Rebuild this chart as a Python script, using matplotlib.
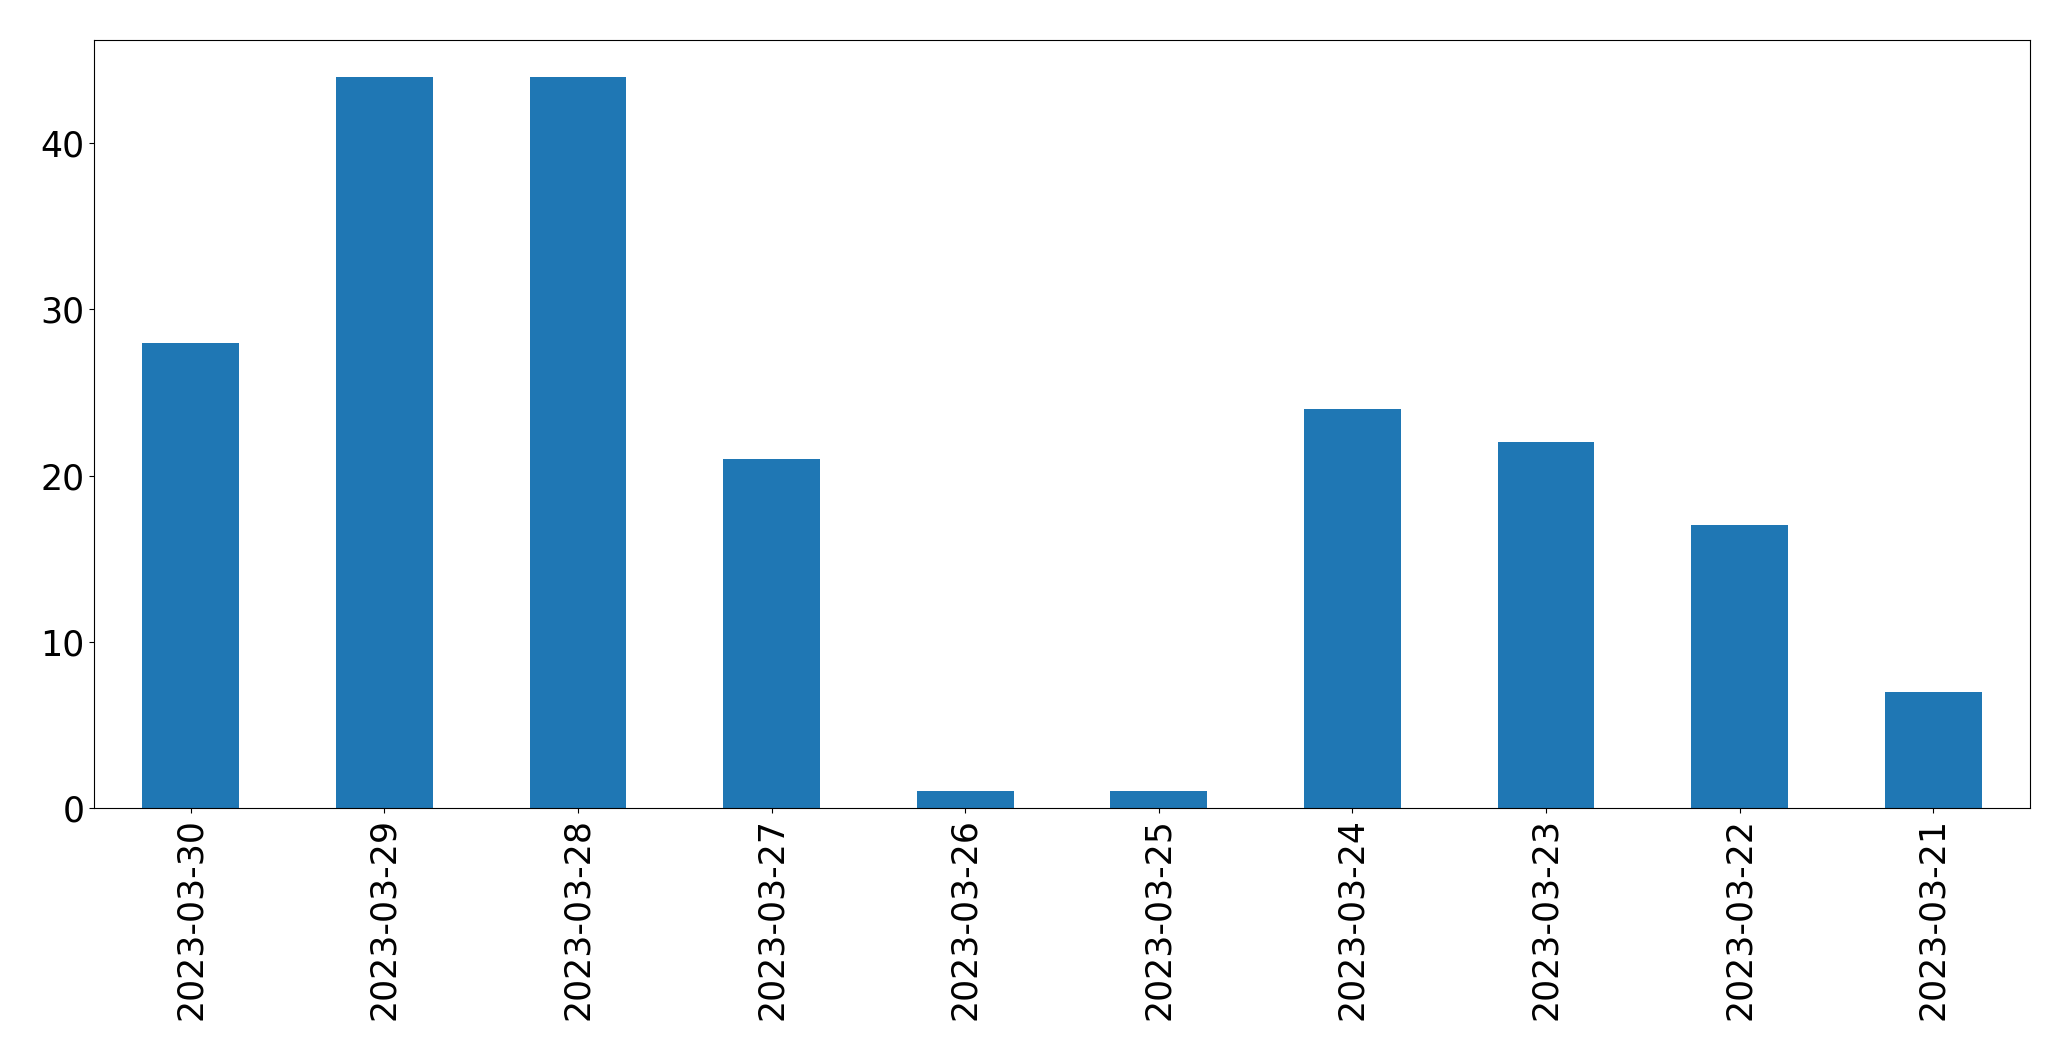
import matplotlib
matplotlib.use("Agg")
from matplotlib import pyplot as plt
import numpy as np

dates = ["2023-03-30", "2023-03-29", "2023-03-28", "2023-03-27", "2023-03-26",
         "2023-03-25", "2023-03-24", "2023-03-23", "2023-03-22", "2023-03-21"]
counts = [28, 44, 44, 21, 1, 1, 24, 22, 17, 7]

fig = plt.figure(figsize=(20.71, 10.61), dpi=100)
ax = fig.add_axes([94/2071, 1 - 808/1061, (2030-94)/2071, (808-40)/1061])

x = np.arange(len(dates))
ax.bar(x, counts, width=0.5, color="#1f77b4")
ax.set_xlim(-0.5, len(dates) - 0.5)
ax.set_ylim(0, max(counts) * 1.05)
ax.set_xticks(x)
ax.set_xticklabels(dates, rotation=90)
ax.set_yticks([0, 10, 20, 30, 40])
ax.tick_params(labelsize=25)

fig.savefig("out.png", dpi=100)
